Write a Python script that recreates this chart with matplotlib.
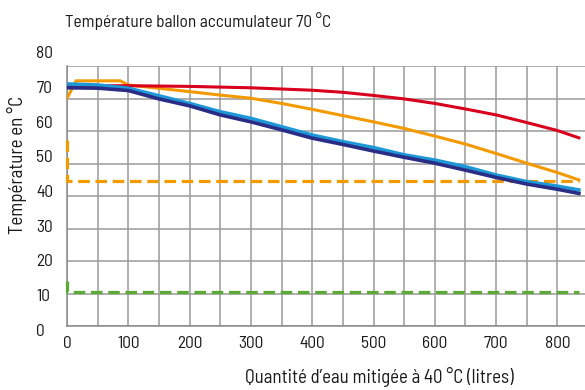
import matplotlib
matplotlib.use("Agg")
import matplotlib.pyplot as plt
from matplotlib import font_manager

# ---- data ----
x_red = [0, 100, 200, 300, 400, 450, 500, 550, 600, 650, 700, 750, 800, 835]
y_red = [70.3, 70.3, 70.1, 69.7, 69.0, 68.4, 67.5, 66.5, 65.2, 63.6, 61.9, 59.7, 57.4, 55.3]

x_orange = [0, 15, 87, 100, 200, 250, 300, 350, 400, 450, 500, 550, 600, 650, 700, 750, 800, 835]
y_orange = [66.7, 71.7, 71.7, 70.5, 68.6, 67.6, 66.7, 65.2, 63.5, 61.7, 59.9, 58.0, 55.8, 53.5, 50.8, 48.0, 45.3, 43.2]

x_blue = [0, 50, 100, 150, 200, 250, 300, 350, 400, 450, 500, 550, 600, 650, 700, 750, 800, 835]
y_blue = [70.8, 70.5, 69.6, 67.4, 65.2, 62.8, 60.9, 58.5, 56.1, 54.2, 52.5, 50.4, 48.9, 47.0, 44.6, 42.7, 41.4, 40.3]

x_navy = [0, 50, 100, 150, 200, 250, 300, 350, 400, 450, 500, 550, 600, 650, 700, 750, 800, 835]
y_navy = [69.7, 69.6, 68.9, 66.5, 64.5, 61.9, 59.9, 57.6, 55.2, 53.4, 51.5, 49.7, 48.0, 46.0, 43.9, 42.0, 40.5, 39.3]

x_orange_dash = [0, 0, 835]
y_orange_dash = [54.7, 42.9, 42.9]

x_green_dash = [0, 0, 835]
y_green_dash = [14.1, 10.9, 10.9]

x_ticks = [0, 100, 200, 300, 400, 500, 600, 700, 800]
y_ticks = [0, 10, 20, 30, 40, 50, 60, 70, 80]

title = "Température ballon accumulateur 70 °C"
xlabel = "Quantité d’eau mitigée à 40 °C (litres)"
ylabel = "Température en °C"

# ---- fonts ----
avail = {f.name for f in font_manager.fontManager.ttflist}
fam = [f for f in ["Barlow Semi Condensed", "Roboto Condensed", "Liberation Sans", "DejaVu Sans"] if f in avail]
plt.rcParams["font.family"] = fam
FS = 12.5
FSL = 13.6
TXT = "#1a1a1a"

W, H = 585, 390
fig = plt.figure(figsize=(W / 100, H / 100), dpi=100)

# grid axes
L = 67 / W
ax = fig.add_axes([L, 1 - 326 / H, 1 - L, (326 - 66) / H])
ax.set_xlim(0, 845)
ax.set_ylim(0, 80)
ax.set_xticks(x_ticks)
ax.set_xticks(list(range(50, 850, 100)), minor=True)
ax.set_yticks(y_ticks)
ax.grid(True, which="both", color="#9a9a9a", linewidth=1.1)
ax.tick_params(axis="y", which="both", length=0, labelleft=False)
ax.tick_params(axis="x", which="both", length=0, pad=7.5, labelsize=FS, labelcolor=TXT)
for s in ["top", "right"]:
    ax.spines[s].set_visible(False)
for s in ["left", "bottom"]:
    ax.spines[s].set_color("#8a8a8a")
    ax.spines[s].set_linewidth(1.1)
ax.set_axisbelow(True)

# label/data axes
ax2 = fig.add_axes([L, 1 - 330 / H, 1 - L, (330 - 52) / H], sharex=ax)
ax2.patch.set_visible(False)
for s in ax2.spines.values():
    s.set_visible(False)
ax2.set_ylim(0, 80)
ax2.set_yticks(y_ticks)
ax2.tick_params(axis="y", which="both", length=0, pad=22.3, labelsize=FS, labelcolor=TXT)
for lab in ax2.get_yticklabels():
    lab.set_horizontalalignment("left")
ax2.tick_params(axis="x", which="both", length=0, labelbottom=False)

ax2.plot(x_green_dash, y_green_dash, color="#5aaa35", lw=2.3, dashes=(3.6, 1.8), clip_on=False)
ax2.plot(x_orange_dash, y_orange_dash, color="#f39a00", lw=2.3, dashes=(3.6, 1.8), clip_on=False)
ax2.plot(x_orange, y_orange, color="#f39a00", lw=2.2, solid_joinstyle="miter")
ax2.plot(x_red, y_red, color="#d8001c", lw=2.2)
ax2.plot(x_blue, y_blue, color="#1c98d8", lw=2.6)
ax2.plot(x_navy, y_navy, color="#2a2d85", lw=2.6)

fig.text(65 / W, 1 - 27 / H, title, fontsize=FS, color=TXT, ha="left", va="baseline")
fig.text(379 / W, 1 - 383 / H, xlabel, fontsize=FSL, color=TXT, ha="center", va="baseline")
fig.text(17 / W, 1 - 165 / H, ylabel, fontsize=FSL, color=TXT, ha="center", va="center", rotation=90)

fig.savefig("out.png", dpi=100)
